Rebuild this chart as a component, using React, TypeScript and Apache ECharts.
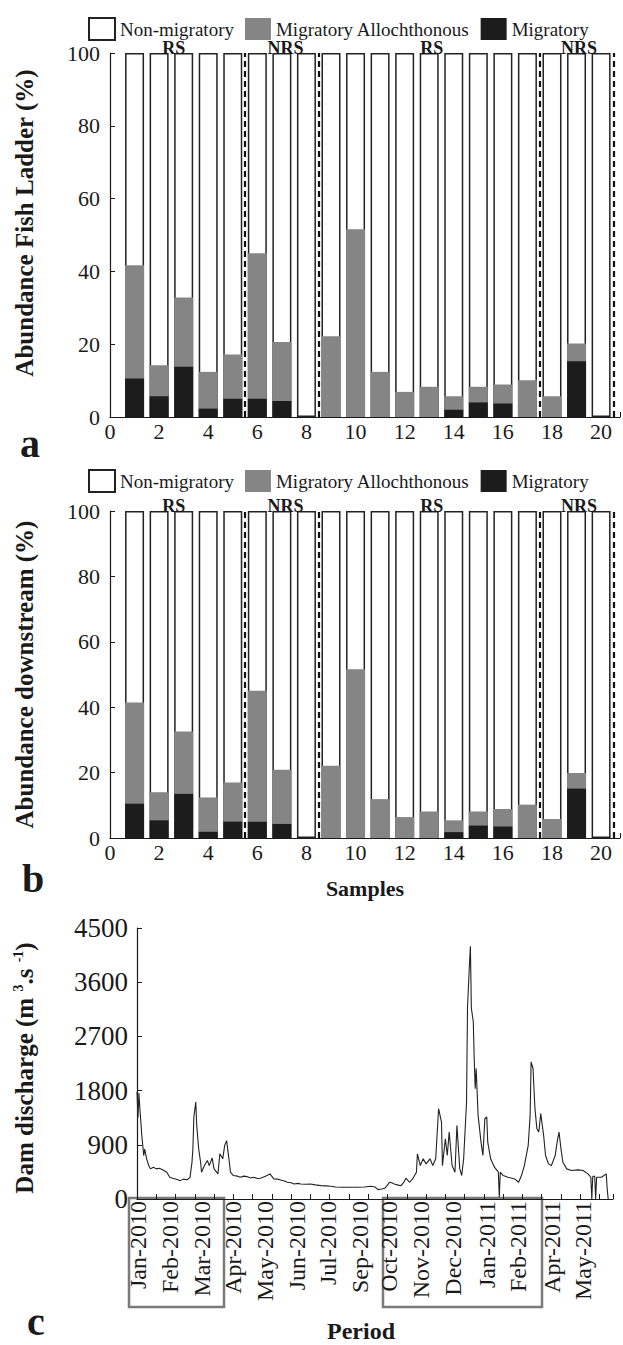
import React, { useEffect, useRef } from "react";
import * as echarts from "echarts";

// ---------- data ----------
const samples = [1, 2, 3, 4, 5, 6, 7, 8, 9, 10, 11, 12, 13, 14, 15, 16, 17, 18, 19, 20];
const legendNames = ["Non-migratory", "Migratory Allochthonous", "Migratory"];

// Panel a – fish ladder (%)
const ladderMigratory = [10.6, 5.7, 13.8, 2.3, 5.0, 5.0, 4.4, 0, 0, 0, 0, 0, 0, 2.0, 4.0, 3.7, 0, 0, 15.3, 0];
const ladderAllochthonous = [31.1, 8.5, 19.0, 10.1, 12.2, 40.0, 16.2, 0, 22.2, 51.6, 12.4, 6.9, 8.3, 3.7, 4.3, 5.2, 10.1, 5.7, 4.9, 0];
const ladderNonMigratory = [58.3, 85.8, 67.2, 87.6, 82.8, 55.0, 79.4, 100, 77.8, 48.4, 87.6, 93.1, 91.7, 94.3, 91.7, 91.1, 89.9, 94.3, 79.8, 100];

// Panel b – downstream (%)
const downMigratory = [10.5, 5.4, 13.5, 1.9, 5.0, 5.0, 4.3, 0, 0, 0, 0, 0, 0, 1.8, 3.8, 3.5, 0, 0, 15.1, 0];
const downAllochthonous = [30.9, 8.6, 19.1, 10.5, 12.0, 40.0, 16.6, 0, 22.1, 51.6, 11.9, 6.4, 8.1, 3.6, 4.3, 5.4, 10.2, 5.8, 4.8, 0];
const downNonMigratory = [58.6, 86.0, 67.4, 87.6, 83.0, 55.0, 79.1, 100, 77.9, 48.4, 88.1, 93.6, 91.9, 94.6, 91.9, 91.1, 89.8, 94.2, 80.1, 100];

const zoneLabels = ["RS", "NRS", "RS", "NRS"];
const zoneCenters = [2.6, 7.15, 13.1, 19.1];
const zoneBounds = [5.5, 8.5, 17.5, 20.5];

// Panel c – dam discharge (m3/s), day since start of record
const dischargeDay = [
  0, 1, 2, 3, 5, 7, 8, 10, 12, 14, 17, 20, 23, 26, 31, 34, 37, 40, 43, 45, 48, 52, 55, 57, 58, 59, 61, 62, 64, 66,
  67, 70, 73, 75, 78, 80, 84, 86, 89, 91, 93, 95, 97, 100, 104, 107, 111, 114, 118, 121, 125, 128, 132, 135, 138,
  142, 146, 149, 153, 156, 160, 163, 167, 170, 175, 180, 185, 191, 196, 201, 206, 212, 220, 229, 236, 243, 247,
  250, 254, 257, 260, 262, 265, 267, 271, 274, 277, 279, 283, 286, 290, 291, 294, 297, 300, 304, 307, 310, 313,
  316, 317, 320, 322, 324, 327, 330, 332, 335, 337, 339, 342, 343, 345, 346, 347, 349, 350, 351, 352, 354, 357,
  359, 361, 363, 364, 367, 371, 375, 376, 377, 380, 385, 392, 396, 399, 402, 406, 408, 409, 411, 413, 415, 417,
  419, 422, 424, 427, 430, 434, 436, 438, 440, 442, 446, 451, 458, 463, 468, 471, 472, 473, 475, 476, 477, 482,
  487, 488, 489,
];
const dischargeValue = [
  1780, 1350, 1760, 1500, 1055, 720, 830, 667, 560, 500, 528, 500, 510, 490, 445, 360, 345, 333, 315, 305, 330, 320,
  360, 600, 833, 1360, 1610, 1222, 833, 611, 445, 555, 640, 555, 680, 500, 417, 750, 667, 890, 970, 720, 445, 390,
  380, 360, 380, 372, 350, 360, 340, 345, 370, 390, 417, 333, 330, 317, 300, 278, 270, 250, 260, 250, 245, 250, 235,
  222, 218, 211, 200, 194, 196, 194, 200, 211, 200, 156, 165, 178, 230, 278, 265, 250, 230, 222, 280, 345, 278, 333,
  445, 750, 555, 667, 583, 667, 555, 667, 1500, 1278, 555, 1000, 722, 1111, 555, 445, 1222, 500, 390, 667, 1611,
  3167, 3890, 4195, 3167, 2944, 2306, 1833, 2167, 1389, 944, 722, 1333, 1361, 944, 667, 528, 445, 28, 445, 389, 361,
  333, 278, 389, 555, 889, 1389, 2278, 2167, 1500, 1167, 1111, 1417, 1056, 722, 583, 555, 722, 944, 1111, 833, 611,
  500, 472, 483, 472, 417, 361, 0, 378, 378, 0, 361, 361, 417, 167, 0,
];

const monthLabels = [
  "Jan-2010", "Feb-2010", "Mar-2010", "Apr-2010", "May-2010", "Jun-2010", "Jul-2010", "Sep-2010",
  "Oct-2010", "Nov-2010", "Dec-2010", "Jan-2011", "Feb-2011", "Apr-2011", "May-2011",
];
const monthLabelDay = [1, 34, 67, 100, 133, 166, 198, 231, 262, 295, 328, 363, 395, 431, 463];

// ---------- styling ----------
const FONT = "Liberation Serif";
const INK = "#1a1a1a";
const GRAY = "#858585";
const BLACK = "#1c1c1c";

// Bars are layered (cumulative tops drawn back-to-front on the same x position)
function barPanel(xi: number, mig: number[], allo: number[], non: number[]) {
  const whiteTop = samples.map((s, i) => [s, mig[i] + allo[i] + non[i]]);
  const grayTop = samples.map((s, i) => [s, mig[i] + allo[i]]);
  const blackTop = samples.map((s, i) => [s, mig[i]]);
  const common = { type: "bar", xAxisIndex: xi, yAxisIndex: xi, barWidth: 19, barGap: "-100%" };
  return [
    {
      ...common,
      name: "Non-migratory",
      data: whiteTop,
      itemStyle: { color: "#ffffff", borderColor: "#222", borderWidth: 1.5 },
      markLine: {
        silent: true,
        symbol: ["none", "none"],
        label: { show: false },
        lineStyle: { color: "#111", width: 2.2, type: [6, 4] },
        data: zoneBounds.map((v) => ({ xAxis: v })),
      },
    },
    { ...common, name: "Migratory Allochthonous", data: grayTop, itemStyle: { color: GRAY } },
    { ...common, name: "Migratory", data: blackTop, itemStyle: { color: BLACK } },
  ];
}

function sampleXAxis(gridIndex: number, extra: any = {}) {
  return {
    gridIndex,
    type: "value",
    min: 0,
    max: 20.77,
    interval: 2,
    splitLine: { show: false },
    axisLine: { lineStyle: { color: INK, width: 1.2 } },
    axisTick: { inside: true, length: 5, lineStyle: { color: INK } },
    axisLabel: {
      fontSize: 22,
      color: INK,
      fontFamily: FONT,
      margin: 3,
      formatter: (v: number) => (Math.abs(v - Math.round(v)) < 1e-6 && Math.round(v) % 2 === 0 ? String(Math.round(v)) : ""),
    },
    ...extra,
  };
}

function pctYAxis(gridIndex: number, name: string, padding: number[]) {
  return {
    gridIndex,
    type: "value",
    min: 0,
    max: 100,
    interval: 20,
    name,
    nameLocation: "middle",
    nameGap: 73,
    nameTextStyle: { fontSize: 25, fontWeight: "bold", color: INK, fontFamily: FONT, padding },
    splitLine: { show: false },
    axisLine: { lineStyle: { color: INK, width: 1.2 } },
    axisTick: { inside: true, length: 5, lineStyle: { color: INK } },
    axisLabel: { fontSize: 22, color: INK, fontFamily: FONT, margin: 10 },
  };
}

function legendAt(top: number) {
  return {
    top,
    left: 83,
    orient: "horizontal",
    icon: "rect",
    itemWidth: 26,
    itemHeight: 22,
    itemGap: 11,
    selectedMode: false,
    data: legendNames,
    textStyle: { fontSize: 19, color: INK, fontFamily: FONT },
  };
}

function letter(text: string, x: number, y: number) {
  return {
    type: "text",
    silent: true,
    style: { text, x, y, verticalAlign: "middle", align: "left", font: `bold 40px "${FONT}"`, fill: INK },
  };
}

export default function App() {
  const ref = useRef<HTMLDivElement>(null);
  useEffect(() => {
    document.body.style.margin = "0";
    if (!ref.current) return;
    const chart = echarts.init(ref.current, undefined, { renderer: "svg" });
    const baseGraphic: any[] = [
      letter("a", 20, 443),
      letter("b", 22, 878),
      letter("c", 27, 1321),
      {
        type: "rect",
        silent: true,
        shape: { x: 129, y: 1198, width: 95, height: 109 },
        style: { fill: "none", stroke: "#7a7a7a", lineWidth: 2.5 },
      },
      {
        type: "rect",
        silent: true,
        shape: { x: 383, y: 1198, width: 159, height: 109 },
        style: { fill: "none", stroke: "#7a7a7a", lineWidth: 2.5 },
      },
    ];
    const option: any = {
      animation: false,
      backgroundColor: "#ffffff",
      textStyle: { fontFamily: FONT, color: INK },
      legend: [legendAt(12), legendAt(464)],
      grid: [
        { left: 110, top: 53, width: 513, height: 364 },
        { left: 110, top: 511, width: 513, height: 327 },
        { left: 137, top: 928, width: 476, height: 271 },
      ],
      xAxis: [
        sampleXAxis(0),
        sampleXAxis(1, {
          name: "Samples",
          nameLocation: "middle",
          nameGap: 39,
          nameTextStyle: { fontSize: 22, fontWeight: "bold", color: INK, fontFamily: FONT },
        }),
        {
          gridIndex: 2,
          type: "value",
          min: 0,
          max: 494,
          interval: 20,
          name: "Period",
          nameLocation: "middle",
          nameGap: 120,
          nameTextStyle: { fontSize: 24, fontWeight: "bold", color: INK, fontFamily: FONT, padding: [0, 28, 0, 0] },
          splitLine: { show: false },
          axisLine: { lineStyle: { color: INK, width: 1.2 } },
          axisTick: { inside: true, length: 5, lineStyle: { color: INK } },
          axisLabel: {
            customValues: monthLabelDay,
            rotate: 90,
            margin: 2,
            fontSize: 24,
            color: INK,
            fontFamily: FONT,
            formatter: (v: number) => {
              const i = monthLabelDay.indexOf(v);
              return i >= 0 ? monthLabels[i] : "";
            },
          },
        },
      ],
      yAxis: [
        pctYAxis(0, "Abundance Fish Ladder (%)", [0, 0, 0, 24]),
        pctYAxis(1, "Abundance downstream (%)", [0, 0, 0, 0]),
        {
          gridIndex: 2,
          type: "value",
          min: 0,
          max: 4500,
          interval: 900,
          name: "Dam discharge (m {sup|3}.s {sup|-1})",
          nameLocation: "middle",
          nameGap: 100,
          nameTextStyle: {
            fontSize: 25,
            fontWeight: "bold",
            color: INK,
            fontFamily: FONT,
            padding: [0, 9, 0, 0],
            rich: { sup: { fontSize: 14, fontWeight: "bold", color: INK, fontFamily: FONT, verticalAlign: "top", lineHeight: 26 } },
          },
          splitLine: { show: false },
          axisLine: { lineStyle: { color: INK, width: 1.2 } },
          axisTick: { inside: true, length: 5, lineStyle: { color: INK } },
          axisLabel: { fontSize: 27, color: INK, fontFamily: FONT, margin: 9, formatter: (v: number) => String(v) },
        },
      ],
      series: [
        ...barPanel(0, ladderMigratory, ladderAllochthonous, ladderNonMigratory),
        ...barPanel(1, downMigratory, downAllochthonous, downNonMigratory),
        {
          type: "line",
          name: "Dam discharge",
          xAxisIndex: 2,
          yAxisIndex: 2,
          showSymbol: false,
          symbol: "none",
          lineStyle: { color: "#222", width: 1.1 },
          data: dischargeDay.map((d, i) => [d, dischargeValue[i]]),
        },
      ],
      graphic: baseGraphic,
    };
    chart.setOption(option);

    // Zone labels (RS / NRS) placed through the axes' own scales, drawn above the bars
    const zoneTexts: any[] = [];
    [0, 1].forEach((gi) => {
      zoneCenters.forEach((c, i) => {
        const p = chart.convertToPixel({ xAxisIndex: gi, yAxisIndex: gi } as any, [c, 100]) as number[];
        zoneTexts.push({
          type: "text",
          silent: true,
          z: 100,
          style: {
            text: zoneLabels[i],
            x: p[0],
            y: p[1] - 5,
            align: "center",
            verticalAlign: "middle",
            font: `bold 18px "${FONT}"`,
            fill: INK,
          },
        });
      });
    });
    chart.setOption({ graphic: [...baseGraphic, ...zoneTexts] });
    return () => chart.dispose();
  }, []);
  return <div ref={ref} style={{ width: 623, height: 1345 }} />;
}
